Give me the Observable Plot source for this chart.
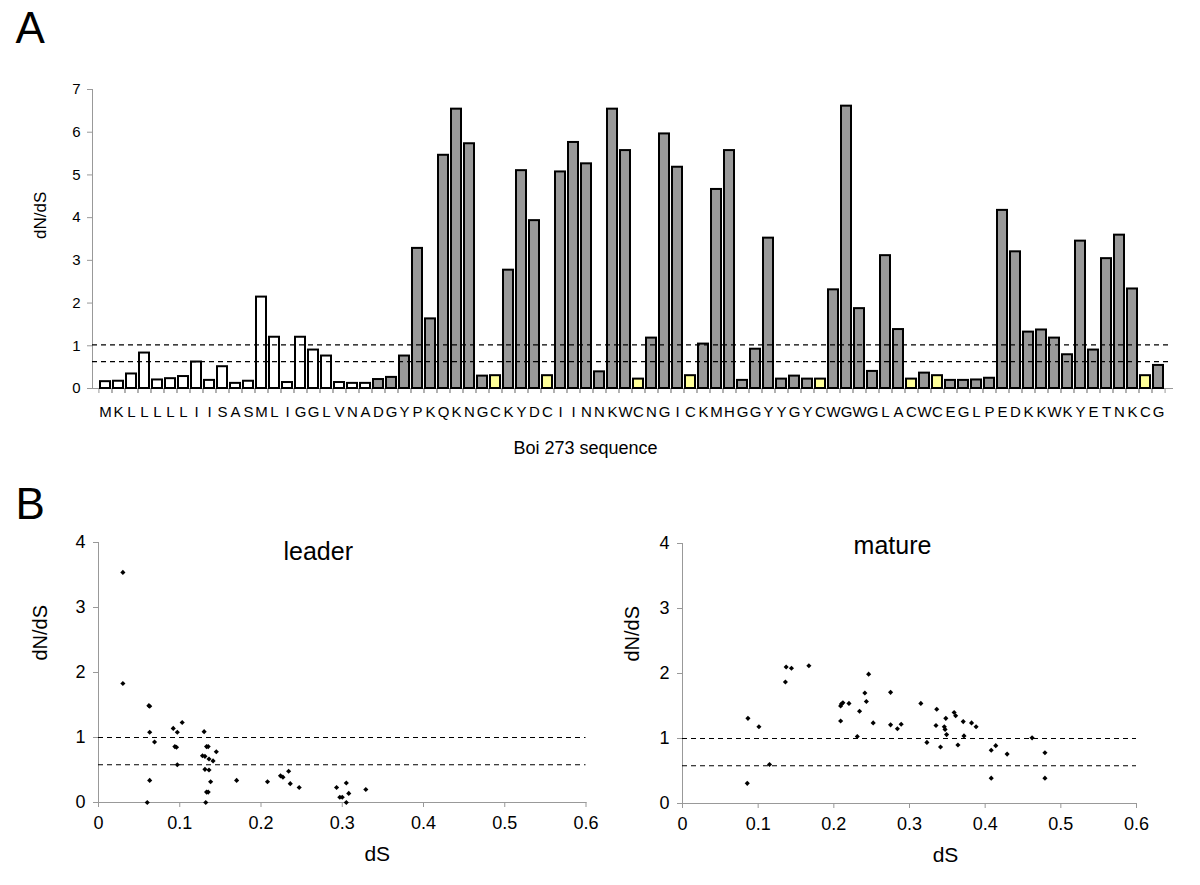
<!DOCTYPE html>
<html><head><meta charset="utf-8">
<script src="https://cdn.jsdelivr.net/npm/d3@7"></script>
<script src="https://cdn.jsdelivr.net/npm/@observablehq/plot@0.6"></script>
<style>
html,body{margin:0;padding:0;background:#fff;}
#root{position:relative;width:1200px;height:885px;overflow:hidden;}
#root svg{position:absolute;}
</style></head><body><div id="root"></div>
<script>
// ---------- Panel A data ----------
const residues = "MKLLLLLIISASMLIGGLVNADGYPKQKNGCKYDCIINNKWCNGICKMHGGYYGYCWGWGLACWCEGLPEDKKWKYETNKCG".split("");
const dnds = [
  0.16, 0.17, 0.34, 0.83, 0.20, 0.23, 0.28, 0.62, 0.19, 0.51,
  0.12, 0.17, 2.14, 1.20, 0.14, 1.20, 0.90, 0.76, 0.14, 0.12,
  0.12, 0.21, 0.26, 0.76, 3.28, 1.63, 5.46, 6.54, 5.73, 0.29,
  0.30, 2.77, 5.10, 3.93, 0.30, 5.07, 5.76, 5.26, 0.39, 6.54,
  5.57, 0.22, 1.18, 5.96, 5.18, 0.30, 1.04, 4.66, 5.57, 0.19,
  0.92, 3.52, 0.22, 0.29, 0.22, 0.22, 2.31, 6.61, 1.87, 0.40,
  3.11, 1.38, 0.22, 0.36, 0.30, 0.19, 0.19, 0.20, 0.24, 4.17,
  3.20, 1.32, 1.37, 1.18, 0.79, 3.45, 0.90, 3.04, 3.59, 2.33,
  0.30, 0.54
];
const leaderLength = 21;
const thresholdsA = [1.02, 0.63];
const yTicksA = [0, 1, 2, 3, 4, 5, 6, 7];

// ---------- Panel B data ----------
const leaderDS = [0.030,0.030,0.062,0.063,0.063,0.069,0.063,0.060,0.092,0.097,0.103,0.094,0.096,0.097,0.130,0.133,0.135,0.145,0.128,0.131,0.136,0.141,0.131,0.136,0.138,0.133,0.135,0.132,0.170,0.208,0.224,0.227,0.234,0.236,0.247,0.293,0.305,0.297,0.300,0.308,0.305,0.329];
const leaderDNDS = [3.54,1.83,1.49,1.48,1.08,0.93,0.34,0.00,1.14,1.08,1.23,0.86,0.85,0.58,1.09,0.86,0.86,0.78,0.72,0.71,0.67,0.64,0.51,0.50,0.32,0.16,0.16,0.00,0.34,0.32,0.41,0.39,0.48,0.29,0.23,0.23,0.30,0.08,0.08,0.14,0.00,0.20];
const matureDS = [0.0865,0.101,0.115,0.0856,0.136,0.137,0.144,0.167,0.209,0.210,0.212,0.220,0.209,0.234,0.231,0.241,0.243,0.246,0.252,0.275,0.275,0.284,0.289,0.315,0.323,0.335,0.336,0.341,0.346,0.347,0.348,0.349,0.359,0.361,0.364,0.371,0.372,0.382,0.388,0.408,0.414,0.429,0.408,0.462,0.479,0.479];
const matureDNDS = [1.31,1.18,0.60,0.31,1.87,2.10,2.08,2.12,1.50,1.53,1.55,1.54,1.27,1.42,1.03,1.70,1.57,1.99,1.24,1.71,1.21,1.15,1.22,1.54,0.94,1.20,1.45,0.87,1.18,1.14,1.31,1.06,1.40,1.35,0.90,1.26,1.04,1.24,1.18,0.82,0.89,0.76,0.39,1.01,0.78,0.39];
const thresholdsB = [1, 0.58];
const xTicksB = [0, 0.1, 0.2, 0.3, 0.4, 0.5, 0.6];
const yTicksB = [0, 1, 2, 3, 4];

// ---------- styles ----------
const font = '"Liberation Sans", Arial, Helvetica, sans-serif';
const axisGray = "#999999";
const fills = {leader: "#ffffff", mature: "#999999", cys: "#ffff99"};
const root = document.getElementById("root");
const plain = d => String(d);

function place(svg, left, top) {
  svg.style.left = left + "px";
  svg.style.top = top + "px";
  root.appendChild(svg);
}

// ---------- Panel A ----------
{
  const W = 1200, H = 470;
  const m = {left: 92, right: 28, top: 89, bottom: 82};
  const n = residues.length;
  const step = (W - m.left - m.right) / n;
  const bars = residues.map((r, i) => ({
    i, r, v: dnds[i],
    kind: i < leaderLength ? "leader" : (r === "C" ? "cys" : "mature")
  }));
  const svg = Plot.plot({
    width: W, height: H,
    marginLeft: m.left, marginRight: m.right, marginTop: m.top, marginBottom: m.bottom,
    style: {fontFamily: font, background: "transparent", overflow: "visible", color: "black"},
    x: {type: "band", domain: d3.range(n), paddingInner: 0.2, paddingOuter: 0.1},
    y: {domain: [0, 7]},
    marks: [
      Plot.frame({anchor: "left", stroke: axisGray}),
      Plot.frame({anchor: "bottom", stroke: axisGray}),
      Plot.axisY({ticks: yTicksA, tickFormat: plain, tickSize: 5, tickPadding: 7, fontSize: 15, stroke: axisGray, fill: "black", label: null}),
      Plot.axisX({tickSize: 5, tickFormat: () => "", dx: -step / 2, stroke: axisGray, label: null}),
      Plot.axisX({tickSize: 5, tickFormat: () => "", dx: step / 2, stroke: axisGray, label: null}),
      Plot.axisX({tickSize: 0, tickPadding: 18, tickFormat: i => residues[i], fontSize: 15, fill: "black", label: null}),
      Plot.barY(bars, {x: "i", y: "v", fill: d => fills[d.kind], stroke: "black", strokeWidth: 2}),
      Plot.ruleY(thresholdsA, {stroke: "black", strokeWidth: 1.2, strokeDasharray: "5,4"}),
      Plot.text(["A"], {text: d => d, frameAnchor: "top-left", textAnchor: "start", lineAnchor: "bottom", dx: -77, dy: -47, fontSize: 44}),
      Plot.text(["dN/dS"], {text: d => d, frameAnchor: "left", rotate: -90, dx: -52, fontSize: 17}),
      Plot.text(["Boi 273 sequence"], {text: d => d, frameAnchor: "bottom", lineAnchor: "bottom", dx: -47, dy: 65, fontSize: 18})
    ]
  });
  place(svg, 0, 0);
}

// ---------- Panel B ----------
function scatter(ds, r, title, cfg) {
  const pts = ds.map((d, i) => ({ds: d, r: r[i]}));
  const marks = [
    Plot.frame({anchor: "left", stroke: axisGray}),
    Plot.frame({anchor: "bottom", stroke: axisGray}),
    Plot.axisY({ticks: yTicksB, tickFormat: plain, tickSize: 5, tickPadding: 8, fontSize: 18, stroke: axisGray, fill: "black", label: null}),
    Plot.axisX({ticks: xTicksB, tickFormat: plain, tickSize: 5, tickPadding: 9, fontSize: 18, stroke: axisGray, fill: "black", label: null}),
    Plot.ruleY(thresholdsB, {stroke: "black", strokeWidth: 1.1, strokeDasharray: "5,4"}),
    Plot.dot(pts, {x: "ds", y: "r", symbol: "diamond2", r: 2.3, fill: "black", stroke: "none"}),
    Plot.text([title], {text: d => d, frameAnchor: "top", lineAnchor: "bottom", dx: cfg.titleDx, dy: cfg.titleDy, fontSize: 25}),
    Plot.text(["dN/dS"], {text: d => d, frameAnchor: "left", rotate: -90, dx: cfg.ylabDx, dy: -12, fontSize: 20}),
    Plot.text(["dS"], {text: d => d, frameAnchor: "bottom", lineAnchor: "bottom", dx: cfg.xlabDx, dy: 58, fontSize: 21})
  ];
  if (cfg.panel) marks.push(Plot.text([cfg.panel], {text: d => d, frameAnchor: "top-left", textAnchor: "start", lineAnchor: "bottom", dx: cfg.panelDx, dy: cfg.panelDy, fontSize: 44}));
  return Plot.plot({
    width: 600, height: 415,
    marginLeft: cfg.ml, marginRight: cfg.mr, marginTop: cfg.mt, marginBottom: cfg.mb,
    style: {fontFamily: font, background: "transparent", overflow: "visible", color: "black"},
    x: {domain: [0, 0.6]},
    y: {domain: [0, 4]},
    marks
  });
}

place(scatter(leaderDS, leaderDNDS, "leader", {
  ml: 98, mr: 14.5, mt: 72, mb: 83,
  titleDx: -24, titleDy: 17, ylabDx: -58, xlabDx: 35,
  panel: "B", panelDx: -83, panelDy: -24
}), 0, 470);

place(scatter(matureDS, matureDNDS, "mature", {
  ml: 82, mr: 64, mt: 73, mb: 82,
  titleDx: -17, titleDy: 10, ylabDx: -50, xlabDx: 36
}), 600, 470);
</script>
</body></html>
